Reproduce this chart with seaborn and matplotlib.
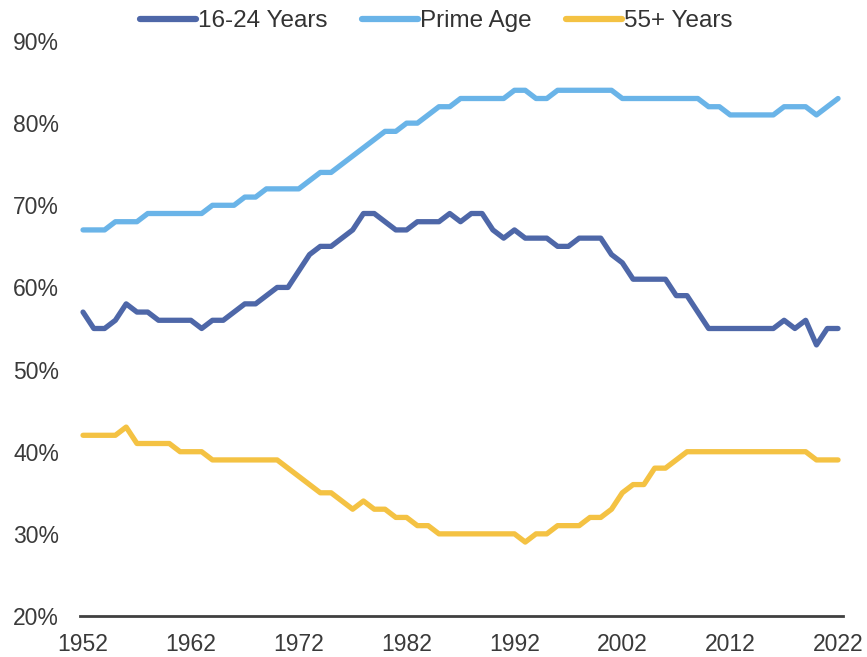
import numpy as np
import pandas as pd
import matplotlib
matplotlib.use("Agg")
import matplotlib.pyplot as plt
import seaborn as sns
from matplotlib.ticker import FuncFormatter

years = list(range(1952, 2023))

youth = [57, 55, 55, 56, 58, 57, 57, 56, 56, 56, 56, 55, 56, 56, 57, 58, 58, 59, 60, 60,
         62, 64, 65, 65, 66, 67, 69, 69, 68, 67, 67, 68, 68, 68, 69, 68, 69, 69, 67, 66,
         67, 66, 66, 66, 65, 65, 66, 66, 66, 64, 63, 61, 61, 61, 61, 59, 59, 57, 55, 55,
         55, 55, 55, 55, 55, 56, 55, 56, 53, 55, 55]

prime = [67, 67, 67, 68, 68, 68, 69, 69, 69, 69, 69, 69, 70, 70, 70, 71, 71, 72, 72, 72,
         72, 73, 74, 74, 75, 76, 77, 78, 79, 79, 80, 80, 81, 82, 82, 83, 83, 83, 83, 83,
         84, 84, 83, 83, 84, 84, 84, 84, 84, 84, 83, 83, 83, 83, 83, 83, 83, 83, 82, 82,
         81, 81, 81, 81, 81, 82, 82, 82, 81, 82, 83]

older = [42, 42, 42, 42, 43, 41, 41, 41, 41, 40, 40, 40, 39, 39, 39, 39, 39, 39, 39, 38,
         37, 36, 35, 35, 34, 33, 34, 33, 33, 32, 32, 31, 31, 30, 30, 30, 30, 30, 30, 30,
         30, 29, 30, 30, 31, 31, 31, 32, 32, 33, 35, 36, 36, 38, 38, 39, 40, 40, 40, 40,
         40, 40, 40, 40, 40, 40, 40, 40, 39, 39, 39]

series_names = ["16-24 Years", "Prime Age", "55+ Years"]
colors = ["#4e67a8", "#6ab4e8", "#f4c243"]

df = pd.DataFrame({
    "year": years * 3,
    "rate": youth + prime + older,
    "group": np.repeat(series_names, len(years)),
})

sns.set_style("white")
plt.rcParams["font.family"] = ["Liberation Sans", "DejaVu Sans"]

fig = plt.figure(figsize=(8.67, 6.57), dpi=100)
ax = fig.add_axes([80 / 867, 41 / 657, 763 / 867, 575 / 657])

sns.lineplot(data=df, x="year", y="rate", hue="group", hue_order=series_names,
             palette=colors, linewidth=3.8, ax=ax, legend=True)
for line in ax.get_lines():
    line.set_solid_capstyle("round")
    line.set_solid_joinstyle("round")

ax.set_xlim(1951.72, 2022.46)
ax.set_ylim(20, 90)
ax.set_xticks(range(1952, 2023, 10))
ax.set_yticks(range(20, 91, 10))
ax.yaxis.set_major_formatter(FuncFormatter(lambda v, p: f"{v:.0f}%"))
ax.set_xlabel("")
ax.set_ylabel("")

for side in ["top", "right", "left"]:
    ax.spines[side].set_visible(False)
ax.spines["bottom"].set_color("#404040")
ax.spines["bottom"].set_linewidth(2)
ax.tick_params(axis="both", length=0, labelsize=16.5, colors="#3a3a3a")
ax.tick_params(axis="x", pad=12)
ax.tick_params(axis="y", pad=15)
ax.grid(False)

handles, labels = ax.get_legend_handles_labels()
ax.legend(handles, labels, loc="center", bbox_to_anchor=(0.503, 0.968),
          bbox_transform=fig.transFigure, ncol=3, frameon=False, fontsize=17.5,
          handlelength=2.3, handletextpad=0.1, columnspacing=1.4,
          labelcolor="#333333")
for line in ax.get_legend().get_lines():
    line.set_linewidth(4.5)
    line.set_solid_capstyle("round")

fig.savefig("out.png", dpi=100)
